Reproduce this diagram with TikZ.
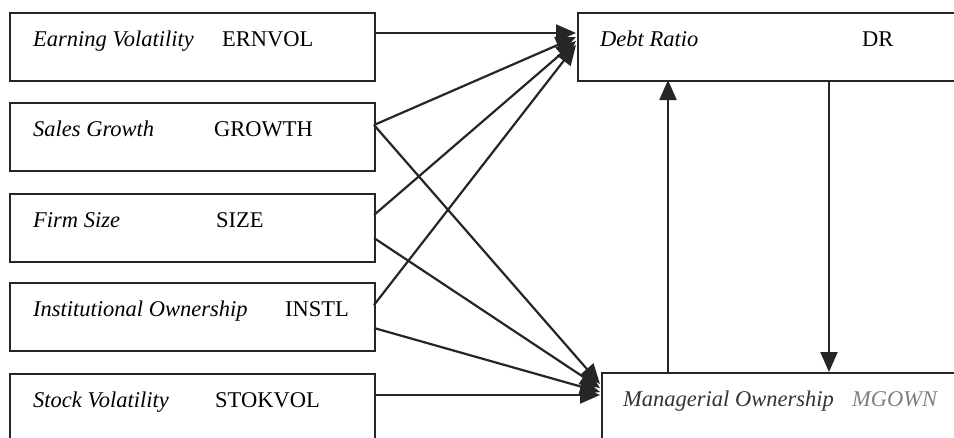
\documentclass[tikz,border=0pt]{standalone}
\usepackage{fontspec}
\setmainfont{Liberation Serif}
\usetikzlibrary{arrows.meta}
\begin{document}
\begin{tikzpicture}[x=1pt,y=-1pt,
  box/.style={draw=black!85,line width=2.4pt,rectangle,anchor=north west,inner sep=0pt},
  lbl/.style={anchor=base west,inner sep=0pt,font=\fontsize{22.5}{27}\selectfont},
  conn/.style={draw=black!85,line width=2.2pt,-{Triangle[length=20pt,width=17pt]}}]
\clip (0,0) rectangle (954,437);
\fill[white] (0,0) rectangle (954,437);
% left boxes
\node[box,minimum width=365pt,minimum height=68pt] (b1) at (9,12) {};
\node[box,minimum width=365pt,minimum height=68pt] (b2) at (9,102) {};
\node[box,minimum width=365pt,minimum height=68pt] (b3) at (9,193) {};
\node[box,minimum width=365pt,minimum height=68pt] (b4) at (9,282) {};
\node[box,minimum width=365pt,minimum height=90pt] (b5) at (9,373) {};
% right boxes
\node[box,minimum width=400pt,minimum height=68pt] (dr) at (577,12) {};
\node[box,minimum width=400pt,minimum height=90pt] (mg) at (601,372) {};
% labels
\node[lbl] (t1a) at (33,46) {\itshape Earning Volatility};
\node[lbl] (t1b) at (222,46) {ERNVOL};
\node[lbl] (t2a) at (33,136) {\itshape Sales Growth};
\node[lbl] (t2b) at (214,136) {GROWTH};
\node[lbl] (t3a) at (33,227) {\itshape Firm Size};
\node[lbl] (t3b) at (216,227) {SIZE};
\node[lbl] (t4a) at (33,316) {\itshape Institutional Ownership};
\node[lbl] (t4b) at (285,316) {INSTL};
\node[lbl] (t5a) at (33,407) {\itshape Stock Volatility};
\node[lbl] (t5b) at (215,407) {STOKVOL};
\node[lbl] (tda) at (600,46) {\itshape Debt Ratio};
\node[lbl] (tdb) at (862,46) {DR};
\node[lbl,text=black!80] (tma) at (623,406) {\itshape Managerial Ownership};
\node[lbl,text=black!50] (tmb) at (852,406) {\itshape MGOWN};
% connector end points
\coordinate (s1) at (374,33);
\coordinate (s2) at (374,125);
\coordinate (s3a) at (374,215);
\coordinate (s3b) at (374,238);
\coordinate (s4a) at (374,305);
\coordinate (s4b) at (374,328);
\coordinate (s5) at (374,395);
\coordinate (d1) at (576,33);
\coordinate (d2) at (576,37);
\coordinate (d3) at (576,41);
\coordinate (d4) at (576,45);
\coordinate (m2) at (600,384);
\coordinate (m3) at (600,388);
\coordinate (m4) at (600,392);
\coordinate (m5) at (600,395);
\coordinate (up0) at (668,372);
\coordinate (up1) at (668,80);
\coordinate (dn0) at (829,80);
\coordinate (dn1) at (829,372);
% connectors
\draw[conn] (s1) -- (d1);
\draw[conn] (s2) -- (d2);
\draw[conn] (s3a) -- (d3);
\draw[conn] (s4a) -- (d4);
\draw[conn] (s2) -- (m2);
\draw[conn] (s3b) -- (m3);
\draw[conn] (s4b) -- (m4);
\draw[conn] (s5) -- (m5);
\draw[conn] (up0) -- (up1);
\draw[conn] (dn0) -- (dn1);
\end{tikzpicture}
\end{document}
